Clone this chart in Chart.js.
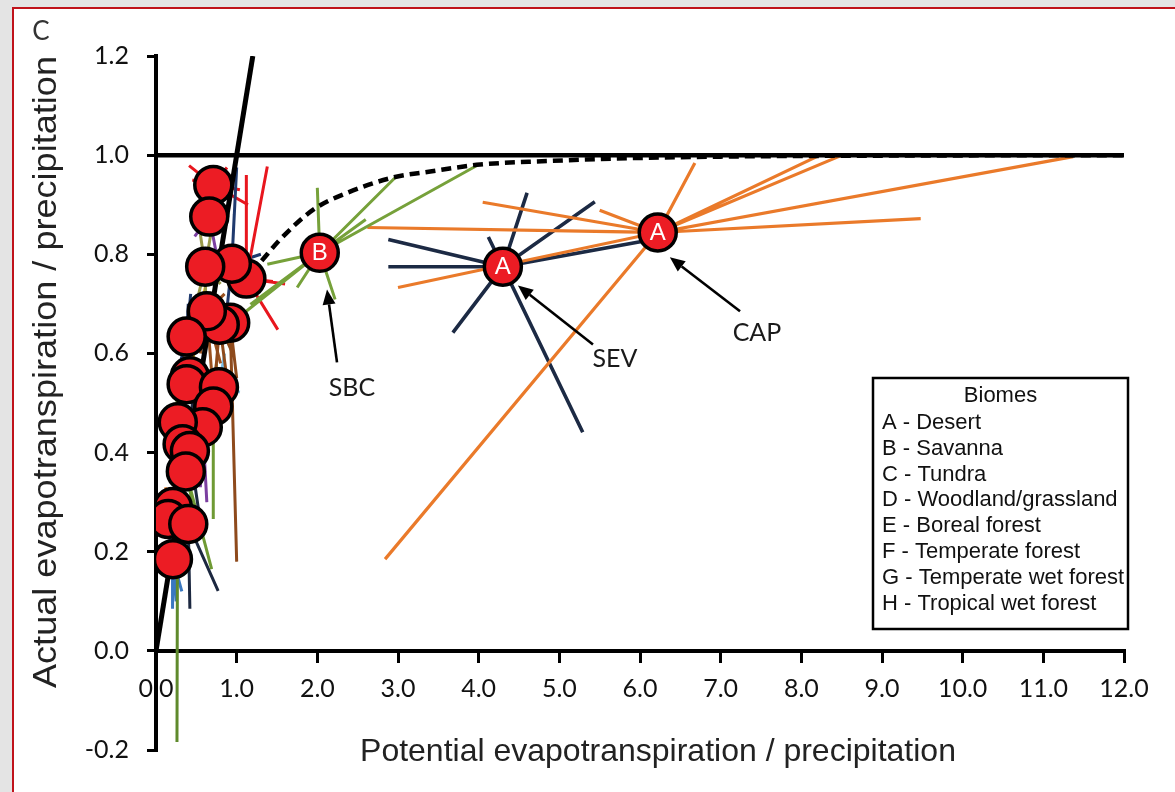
<!DOCTYPE html>
<html>
<head>
<meta charset="utf-8">
<title>Budyko space: evaporative index vs dryness index</title>
<script src="https://cdn.jsdelivr.net/npm/chart.js@4.4.1/dist/chart.umd.min.js"></script>
<style>
  html, body { margin: 0; padding: 0; width: 1175px; height: 792px; overflow: hidden; background: #e4e4e4; }
  #panel { position: absolute; left: 12px; top: 7px; right: 0; bottom: 0; background: #ffffff;
           border-left: 2px solid #c0131b; border-top: 2px solid #c0131b; }
  #wrap { position: absolute; left: 0; top: 0; width: 1175px; height: 792px; }
</style>
</head>
<body>
<div id="panel"></div>
<div id="wrap"><canvas id="chart" width="1175" height="792"></canvas></div>
<script>
// ---- axis ticks ----
const xTickValues = [0, 1, 2, 3, 4, 5, 6, 7, 8, 9, 10, 11, 12];
const yTickValues = [-0.2, 0, 0.2, 0.4, 0.6, 0.8, 1.0, 1.2];

// ---- reference limits ----
const waterLimit  = [[0, 1.0], [12, 1.0]];
const energyLimit = [[0, 0], [1.2, 1.2]];
const budykoCurve = [[1.31, 0.787], [1.54, 0.830], [1.95, 0.890], [2.37, 0.924], [2.94, 0.955],
                     [3.40, 0.967], [4.02, 0.981], [4.85, 0.988], [5.67, 0.993], [7.0, 0.997],
                     [9.0, 0.999], [12.0, 1.0]];

// ---- named sites: long-term mean and individual years ----
const sbcMean  = [2.03, 0.803];
const sbcYears = [[2.00, 0.934], [2.22, 0.709], [2.96, 0.954], [3.99, 0.980], [2.60, 0.870],
                  [1.04, 0.675], [1.38, 0.780], [1.75, 0.733], [1.17, 0.699]];
const sevMean  = [4.30, 0.775];
const sevYears = [[2.88, 0.830], [2.88, 0.775], [4.60, 0.924], [5.44, 0.906], [4.12, 0.835],
                  [3.68, 0.642], [5.29, 0.441], [6.02, 0.826]];
const capMean  = [6.22, 0.844];
const capYears = [[2.84, 0.185], [6.68, 0.984], [8.23, 1.000], [8.49, 0.999], [11.37, 0.997],
                  [9.48, 0.872], [4.05, 0.905], [5.50, 0.889], [2.62, 0.854], [3.00, 0.733]];

// ---- other sites (humid / energy-limited cluster) ----
const clusterMeans = [
  [1.12, 0.751], [0.94, 0.781], [0.71, 0.940], [0.66, 0.876], [0.61, 0.775],
  [0.92, 0.662], [0.79, 0.658], [0.63, 0.685], [0.38, 0.634], [0.42, 0.554],
  [0.38, 0.538], [0.78, 0.532], [0.71, 0.493], [0.58, 0.451], [0.27, 0.461],
  [0.33, 0.417], [0.42, 0.403], [0.37, 0.362], [0.21, 0.290], [0.15, 0.266],
  [0.40, 0.256], [0.21, 0.185]
];
const clusterYears = [
  [[1.38, 0.977], [1.51, 0.648], [1.12, 0.960], [1.45, 0.745], [1.60, 0.740]],
  [[1.00, 0.975], [0.97, 0.880], [0.86, 0.660], [1.30, 0.800]],
  [[0.41, 0.979], [0.45, 0.950], [1.14, 0.900], [1.04, 0.930], [0.88, 0.975]],
  [[0.48, 0.836], [0.75, 0.800], [0.90, 0.890]],
  [[0.55, 0.840], [0.70, 0.860], [0.62, 0.660], [0.50, 0.700], [0.80, 0.740]],
  [[1.00, 0.180], [1.00, 0.550]],
  [[0.92, 0.500], [0.68, 0.450], [0.95, 0.600]],
  [[0.80, 0.580], [0.72, 0.500], [0.55, 0.600], [0.85, 0.720]],
  [[0.40, 0.700], [0.30, 0.580], [0.43, 0.720]],
  [[0.61, 0.733], [0.40, 0.620], [0.50, 0.500]],
  [[0.30, 0.460], [0.33, 0.600]],
  [[1.04, 0.522], [0.85, 0.600], [0.80, 0.460]],
  [[0.71, 0.266], [0.75, 0.580], [0.60, 0.400]],
  [[0.63, 0.300], [0.55, 0.330]],
  [[0.26, -0.184], [0.25, 0.550]],
  [[0.50, 0.330], [0.28, 0.480]],
  [[0.55, 0.260], [0.45, 0.500]],
  [[0.69, 0.165], [0.45, 0.300]],
  [[0.16, 0.200], [0.28, 0.350]],
  [[0.12, 0.330], [0.20, 0.220]],
  [[0.77, 0.121], [0.42, 0.085]],
  [[0.20, 0.085], [0.32, 0.120], [0.25, 0.100]]
];

// ---- biome legend ----
const biomeTitle = 'Biomes';
const biomes = ['A - Desert', 'B - Savanna', 'C - Tundra', 'D - Woodland/grassland',
                'E - Boreal forest', 'F - Temperate forest', 'G - Temperate wet forest',
                'H - Tropical wet forest'];
const namedSites  = ['SBC', 'SEV', 'CAP'];
const namedBiomes = ['B', 'A', 'A'];

// ---- styling ----
const clusterColors = ['#e8161e', '#1f3a6e', '#e8161e', '#7b3fa0', '#9b9b4a',
                       '#8e4a1c', '#8e4a1c', '#9a5220', '#1f3a6e', '#f2b705',
                       '#a0522d', '#7cc0e8', '#6f9a34', '#7b3fa0', '#5f8a2c',
                       '#9b9b4a', '#1c2840', '#6f9a34', '#3a78c0', '#e07b28',
                       '#1c2840', '#3a78c0'];
const SBC_COLOR = '#76a13a', SEV_COLOR = '#1c2a44', CAP_COLOR = '#ea7a2a';
const MARK_RED = '#ec1c24';

const pt = p => ({ x: p[0], y: p[1] });
// star of segments: mean -> year -> mean -> next year ...
const spokes = (mean, years) => {
  const out = [];
  years.forEach(y => { out.push(pt(mean), pt(y)); });
  return out;
};

const datasets = [];
const allMeans = clusterMeans.concat([sbcMean, sevMean, capMean]);
datasets.push({
  label: 'site means', data: allMeans.map(pt), showLine: false,
  pointRadius: 18.5, pointHoverRadius: 18.5, pointBackgroundColor: MARK_RED,
  pointBorderColor: '#000', pointBorderWidth: 3.5, order: 0
});
const refLine = (data, extra) => Object.assign({
  data: data.map(pt), showLine: true, borderColor: '#000', borderWidth: 4.5,
  pointRadius: 0, fill: false, order: 1
}, extra || {});
datasets.push(refLine(waterLimit));
datasets.push(refLine(energyLimit, { borderWidth: 5 }));
datasets.push(refLine(budykoCurve, { borderDash: [10, 6], cubicInterpolationMode: 'monotone', borderWidth: 4.5 }));

clusterMeans.forEach((m, i) => {
  datasets.push({
    data: spokes(m, clusterYears[i]), showLine: true, borderColor: clusterColors[i],
    borderWidth: 3, pointRadius: 0, order: 3, borderCapStyle: 'butt'
  });
});
datasets.push({ data: spokes(sbcMean, sbcYears), showLine: true, borderColor: SBC_COLOR, borderWidth: 3, pointRadius: 0, order: 2 });
datasets.push({ data: spokes(capMean, capYears), showLine: true, borderColor: CAP_COLOR, borderWidth: 3.2, pointRadius: 0, order: 2 });
datasets.push({ data: spokes(sevMean, sevYears), showLine: true, borderColor: SEV_COLOR, borderWidth: 3.6, pointRadius: 0, order: 2 });

// annotation anchors in data units: label centre, arrow tail, arrow tip
const siteCallouts = [
  { text: [2.43, 0.530], from: [2.244, 0.582], to: [2.12, 0.729] },
  { text: [5.69, 0.588], from: [5.417, 0.618], to: [4.487, 0.737] },
  { text: [7.45, 0.642], from: [7.24, 0.685], to: [6.37, 0.794] }
];

function arrow(ctx, x1, y1, x2, y2) {
  const ang = Math.atan2(y2 - y1, x2 - x1);
  const head = 15, half = 6.5;
  const bx = x2 - head * Math.cos(ang), by = y2 - head * Math.sin(ang);
  ctx.beginPath();
  ctx.moveTo(x1, y1);
  ctx.lineTo(bx, by);
  ctx.lineWidth = 2.6;
  ctx.strokeStyle = '#000';
  ctx.stroke();
  ctx.beginPath();
  ctx.moveTo(x2, y2);
  ctx.lineTo(bx + half * Math.sin(ang), by - half * Math.cos(ang));
  ctx.lineTo(bx - half * Math.sin(ang), by + half * Math.cos(ang));
  ctx.closePath();
  ctx.fillStyle = '#000';
  ctx.fill();
}

const annotate = {
  id: 'annotate',
  afterDatasetsDraw(chart) {
    const ctx = chart.ctx, xs = chart.scales.x, ys = chart.scales.y;
    const meta = chart.getDatasetMeta(0);
    ctx.save();
    // biome letters on the named sites
    ctx.fillStyle = '#fff';
    ctx.font = '24px "Liberation Sans", Arial, sans-serif';
    ctx.textAlign = 'center';
    ctx.textBaseline = 'middle';
    namedBiomes.forEach((b, i) => {
      const el = meta.data[clusterMeans.length + i];
      ctx.fillText(b, el.x, el.y + 1);
    });
    // callouts
    siteCallouts.forEach((c, i) => {
      arrow(ctx, xs.getPixelForValue(c.from[0]), ys.getPixelForValue(c.from[1]),
                 xs.getPixelForValue(c.to[0]), ys.getPixelForValue(c.to[1]));
      ctx.fillStyle = '#1a1a1a';
      ctx.font = '25px Lato, "Open Sans", sans-serif';
      ctx.fillText(namedSites[i], xs.getPixelForValue(c.text[0]), ys.getPixelForValue(c.text[1]));
    });
    ctx.restore();
  },
  afterDraw(chart) {
    const ctx = chart.ctx;
    // legend box
    ctx.save();
    const L = 873, T = 378, W = 255, H = 251;
    ctx.fillStyle = '#fff';
    ctx.fillRect(L, T, W, H);
    ctx.lineWidth = 2.5;
    ctx.strokeStyle = '#000';
    ctx.strokeRect(L, T, W, H);
    ctx.fillStyle = '#111';
    ctx.font = '22px "Liberation Sans", Arial, sans-serif';
    ctx.textBaseline = 'middle';
    ctx.textAlign = 'center';
    ctx.fillText(biomeTitle, L + W / 2, T + 18);
    ctx.textAlign = 'left';
    biomes.forEach((b, i) => ctx.fillText(b, L + 9, T + 45 + i * 25.8));
    ctx.restore();

    // axis titles
    ctx.save();
    ctx.fillStyle = '#222';
    ctx.textAlign = 'center';
    ctx.textBaseline = 'middle';
    ctx.font = '32px "Liberation Sans", Arial, sans-serif';
    ctx.fillText('Potential evapotranspiration / precipitation', 658, 752);
    ctx.restore();

    ctx.save();
    ctx.fillStyle = '#222';
    ctx.textAlign = 'center';
    ctx.textBaseline = 'middle';
    const yTitle = 'Actual evapotranspiration / precipitation';
    ctx.font = '33px "Liberation Sans", Arial, sans-serif';
    const span = 632, w = ctx.measureText(yTitle).width;
    ctx.translate(47, 372);
    ctx.rotate(-Math.PI / 2);
    ctx.scale(span / w, 1);
    ctx.fillText(yTitle, 0, 0);
    ctx.restore();

    // panel letter
    ctx.save();
    ctx.fillStyle = '#333';
    ctx.font = '26px Lato, sans-serif';
    ctx.textAlign = 'center';
    ctx.textBaseline = 'middle';
    ctx.fillText('C', 41, 32);
    ctx.restore();
  }
};

const fmt = v => (Math.abs(v) < 1e-9 ? 0 : v).toFixed(1);
const tickFont = { family: 'Lato, "Open Sans", sans-serif', size: 25 };

new Chart(document.getElementById('chart'), {
  type: 'scatter',
  data: { datasets },
  options: {
    responsive: false,
    animation: false,
    events: [],
    layout: { padding: { left: 0, top: 56, right: 51, bottom: 42 } },
    elements: { line: { tension: 0 } },
    plugins: { legend: { display: false }, tooltip: { enabled: false } },
    scales: {
      x: {
        type: 'linear', min: 0, max: 12, position: { y: 0 },
        afterBuildTicks: s => { s.ticks = xTickValues.map(v => ({ value: v })); },
        ticks: { callback: fmt, font: tickFont, color: '#111', padding: 13, maxRotation: 0, autoSkip: false },
        grid: { display: true, drawOnChartArea: false, drawTicks: true, tickLength: 10, color: '#000', lineWidth: 3 },
        border: { display: true, color: '#000', width: 4 }
      },
      y: {
        type: 'linear', min: -0.2, max: 1.2, position: 'left',
        afterBuildTicks: s => { s.ticks = yTickValues.map(v => ({ value: v })); },
        afterFit: s => { s.width = 156; },
        ticks: { callback: fmt, font: tickFont, color: '#111', padding: 18, autoSkip: false },
        grid: { display: true, drawOnChartArea: false, drawTicks: true, tickLength: 9, color: '#000', lineWidth: 3 },
        border: { display: true, color: '#000', width: 4 }
      }
    }
  },
  plugins: [annotate]
});
</script>
</body>
</html>
